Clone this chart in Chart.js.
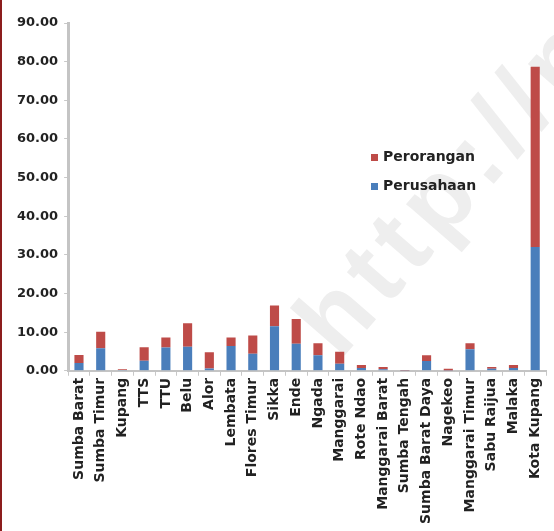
<!DOCTYPE html>
<html>
<head>
<meta charset="utf-8">
<script src="https://cdn.jsdelivr.net/npm/chart.js@4/dist/chart.umd.min.js"></script>
<style>
  html, body { margin: 0; padding: 0; background: #fff; }
  #wrap { position: relative; width: 554px; height: 531px; overflow: hidden; background: #fff; }
  #wm {
    position: absolute; left: 346px; top: 266px; height: 100px; line-height: 100px;
    font: bold 100px "Liberation Sans", Arial, sans-serif; color: #eeeeee; letter-spacing: 9px;
    white-space: nowrap; transform: rotate(-49deg); transform-origin: 0 100%;
  }
  #edge { position: absolute; left: 0; top: 0; width: 2px; height: 531px; background: #8c1d1d; }
  canvas { position: absolute; left: 0; top: 0; }
</style>
</head>
<body>
<div id="wrap">
  <div id="wm">http://nt</div>
  <canvas id="c" width="554" height="531"></canvas>
  <div id="edge"></div>
</div>
<script>
// Kabupaten / kota
const categories = [
  'Sumba Barat', 'Sumba Timur', 'Kupang', 'TTS', 'TTU', 'Belu', 'Alor', 'Lembata',
  'Flores Timur', 'Sikka', 'Ende', 'Ngada', 'Manggarai', 'Rote Ndao', 'Manggarai Barat',
  'Sumba Tengah', 'Sumba Barat Daya', 'Nagekeo', 'Manggarai Timur', 'Sabu Raijua',
  'Malaka', 'Kota Kupang'
];

// Series values
const perusahaan = [2.0, 5.8, 0.2, 2.6, 6.0, 6.2, 0.6, 6.4, 4.4, 11.5, 7.0, 4.0, 1.8,
  0.7, 0.4, 0.1, 2.5, 0.1, 5.6, 0.5, 0.7, 32.0];
const perorangan = [2.1, 4.3, 0.2, 3.5, 2.6, 6.1, 4.2, 2.2, 4.7, 5.4, 6.4, 3.1, 3.1,
  0.8, 0.6, 0.1, 1.5, 0.4, 1.5, 0.5, 0.8, 46.7];

// Y axis ticks
const yTicks = [0, 10, 20, 30, 40, 50, 60, 70, 80, 90];

const yFont = { family: 'DejaVu Sans', weight: 'bold', size: 13 };
const xFont = { family: 'DejaVu Sans', weight: 'bold', size: 14 };

// Legend drawn inside the plot area, last series first
const innerLegend = {
  id: 'innerLegend',
  afterDraw(chart) {
    const ctx = chart.ctx;
    const sets = chart.data.datasets.slice().reverse();
    ctx.save();
    ctx.font = 'bold 14px "DejaVu Sans"';
    ctx.textBaseline = 'middle';
    sets.forEach((ds, i) => {
      const y = 157 + i * 29;
      ctx.fillStyle = ds.backgroundColor;
      ctx.fillRect(371, y - 3, 7, 7);
      ctx.fillStyle = '#222';
      ctx.fillText(ds.label, 383, y);
    });
    ctx.restore();
  }
};

new Chart(document.getElementById('c'), {
  type: 'bar',
  data: {
    labels: categories,
    datasets: [
      { label: 'Perusahaan', data: perusahaan, backgroundColor: '#4a7ebb',
        barPercentage: 0.42, categoryPercentage: 1 },
      { label: 'Perorangan', data: perorangan, backgroundColor: '#be4b48',
        barPercentage: 0.42, categoryPercentage: 1 }
    ]
  },
  options: {
    responsive: false,
    animation: false,
    devicePixelRatio: 1,
    layout: { padding: { left: 11, right: 0, top: 23, bottom: 5 } },
    scales: {
      x: {
        stacked: true,
        offset: true,
        grid: { offset: true, drawOnChartArea: false, tickLength: 5, color: '#c8c8c8' },
        border: { color: '#c4c4c4', width: 2 },
        ticks: {
          autoSkip: false, minRotation: 90, maxRotation: 90, padding: 2,
          font: xFont, color: '#222'
        }
      },
      y: {
        stacked: true,
        min: yTicks[0],
        max: yTicks[yTicks.length - 1],
        afterBuildTicks(axis) { axis.ticks = yTicks.map(v => ({ value: v })); },
        grid: { drawOnChartArea: false, tickLength: 4, color: '#c8c8c8' },
        border: { color: '#c4c4c4', width: 3 },
        ticks: {
          padding: 6, font: yFont, color: '#222',
          callback: v => Number(v).toFixed(2)
        }
      }
    },
    plugins: { legend: { display: false }, tooltip: { enabled: false } }
  },
  plugins: [innerLegend]
});
</script>
</body>
</html>
